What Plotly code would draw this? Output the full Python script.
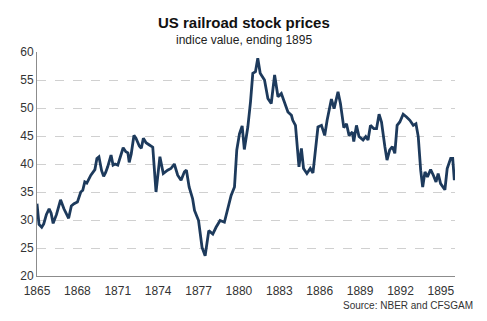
import plotly.graph_objects as go

years = [1865.0, 1865.15, 1865.35, 1865.5, 1865.7, 1865.9, 1866.05, 1866.2, 1866.45, 1866.75,
         1867.0, 1867.35, 1867.55, 1867.75, 1868.0, 1868.25, 1868.4, 1868.55, 1868.7, 1868.85,
         1869.0, 1869.3, 1869.45, 1869.6, 1869.8, 1869.95, 1870.1, 1870.25, 1870.5, 1870.65,
         1870.8, 1871.0, 1871.2, 1871.4, 1871.6, 1871.75, 1871.85, 1872.0, 1872.2, 1872.35,
         1872.6, 1872.75, 1872.9, 1873.1, 1873.35, 1873.6, 1873.84, 1874.13, 1874.38, 1874.7,
         1874.95, 1875.2, 1875.45, 1875.7, 1875.95, 1876.1, 1876.3, 1876.56, 1876.7, 1877.0,
         1877.26, 1877.49, 1877.76, 1878.06, 1878.3, 1878.6, 1878.92, 1879.17, 1879.42, 1879.67,
         1879.84, 1880.04, 1880.24, 1880.4, 1880.66, 1880.86, 1881.03, 1881.23, 1881.4, 1881.58,
         1881.9, 1882.15, 1882.4, 1882.65, 1882.9, 1883.15, 1883.32, 1883.64, 1883.9, 1884.0,
         1884.2, 1884.46, 1884.64, 1884.8, 1885.05, 1885.3, 1885.5, 1885.68, 1885.87, 1886.13,
         1886.37, 1886.55, 1886.87, 1887.07, 1887.36, 1887.54, 1887.79, 1887.99, 1888.18, 1888.43,
         1888.53, 1888.73, 1888.92, 1889.22, 1889.42, 1889.59, 1889.77, 1890.02, 1890.22, 1890.41,
         1890.59, 1890.84, 1891.0, 1891.2, 1891.4, 1891.58, 1891.75, 1891.95, 1892.2, 1892.45,
         1892.7, 1892.95, 1893.15, 1893.32, 1893.5, 1893.65, 1893.82, 1894.0, 1894.24, 1894.44,
         1894.64, 1894.8, 1894.98, 1895.3, 1895.47, 1895.73, 1895.88, 1896.0]

values = [32.9, 29.2, 28.7, 29.3, 31.0, 32.0, 31.2, 29.4, 31.0, 33.6,
          32.0, 30.3, 32.5, 32.9, 33.2, 35.0, 35.3, 36.8, 36.6, 37.3,
          38.0, 39.0, 41.0, 41.3, 38.8, 37.8, 38.5, 39.5, 41.6, 39.8,
          40.0, 39.8, 41.5, 42.9, 42.2, 42.0, 40.3, 41.8, 45.1, 44.6,
          43.2, 42.8, 44.6, 43.8, 43.4, 43.0, 35.0, 41.3, 38.3, 38.9,
          39.2, 40.0, 38.0, 37.1, 38.6, 38.9, 35.9, 33.8, 31.7, 29.9,
          25.1, 23.6, 28.1, 27.5, 28.7, 29.9, 29.6, 32.0, 34.4, 35.9,
          42.5, 45.4, 46.8, 42.6, 46.6, 51.1, 56.2, 56.5, 58.9, 56.2,
          55.0, 51.7, 50.8, 55.9, 52.0, 52.6, 51.4, 49.3, 48.7, 47.8,
          46.9, 39.5, 42.8, 39.2, 38.3, 39.2, 38.4, 41.9, 46.6, 46.9,
          45.1, 47.8, 51.6, 49.9, 52.9, 50.8, 46.5, 47.2, 45.1, 45.7,
          44.0, 46.9, 44.9, 44.3, 44.9, 44.3, 46.9, 46.3, 46.3, 48.9,
          47.5, 43.1, 40.7, 42.5, 43.1, 41.9, 46.9, 47.5, 48.9, 48.4,
          47.8, 46.9, 47.2, 44.9, 38.9, 35.9, 38.6, 37.7, 39.0, 38.0,
          36.8, 38.3, 36.5, 35.4, 39.2, 41.0, 41.0, 37.1]

x_ticks = [1865, 1868, 1871, 1874, 1877, 1880, 1883, 1886, 1889, 1892, 1895]
y_ticks = [20, 25, 30, 35, 40, 45, 50, 55, 60]

FONT = "Liberation Sans, Arial, sans-serif"
L, R, T, B = 37, 32, 52, 45
PW, PH = 487 - L - R, 321 - T - B

fig = go.Figure()
fig.add_trace(go.Scatter(x=years, y=values, mode="lines",
                         line=dict(color="#1d3a5c", width=2.8), hoverinfo="skip",
                         showlegend=False))

fig.update_layout(
    width=487, height=321,
    margin=dict(l=L, r=R, t=T, b=B),
    paper_bgcolor="white", plot_bgcolor="white",
    font=dict(family=FONT, size=12, color="#333333"),
)
fig.add_annotation(text="<b>US railroad stock prices</b>", xref="paper", yref="paper",
                   x=(243.5 - L) / PW, y=1 + (T - 22) / PH,
                   xanchor="center", yanchor="middle", showarrow=False,
                   font=dict(size=15, color="#111111", family=FONT))
fig.add_annotation(text="indice value, ending 1895", xref="paper", yref="paper",
                   x=(243.5 - L) / PW, y=1 + (T - 40) / PH,
                   xanchor="center", yanchor="middle", showarrow=False,
                   font=dict(size=12, color="#222222", family=FONT))
fig.add_annotation(text="Source: NBER and CFSGAM", xref="paper", yref="paper",
                   x=(475 - L) / PW, y=-(305 - (321 - B)) / PH,
                   xanchor="right", yanchor="middle", showarrow=False,
                   font=dict(size=10, color="#333333", family=FONT))

fig.update_xaxes(range=[1865, 1896.05], tickvals=x_ticks, ticktext=[str(t) for t in x_ticks],
                 showgrid=False, zeroline=False, showline=True, linecolor="#8c8c8c", linewidth=1,
                 ticks="", ticklabelstandoff=4, tickfont=dict(size=12, color="#333333"))
fig.update_yaxes(range=[20, 60], tickvals=y_ticks, showgrid=True, gridcolor="#d0d0d0",
                 griddash="dash", gridwidth=1, zeroline=False, showline=True,
                 linecolor="#8c8c8c", linewidth=1, ticks="", tickfont=dict(size=12, color="#333333"))

fig.write_html("out.html")
